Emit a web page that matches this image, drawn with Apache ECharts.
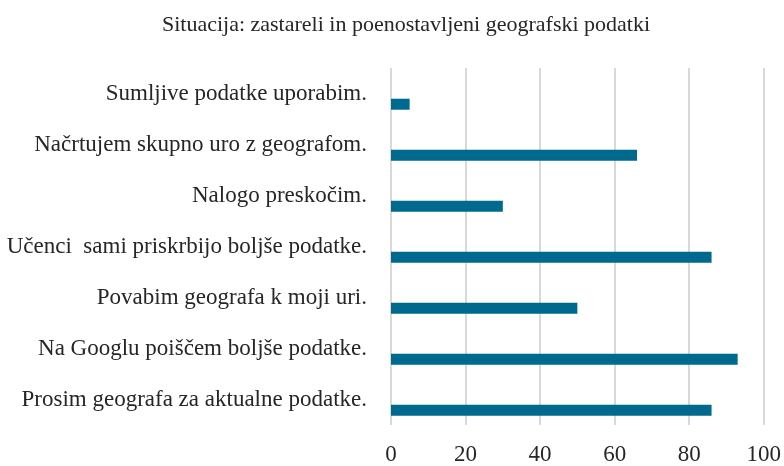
<!DOCTYPE html>
<html>
<head>
<meta charset="utf-8">
<script src="https://cdn.jsdelivr.net/npm/echarts@6/dist/echarts.min.js"></script>
<style>
  html, body { margin: 0; padding: 0; background: #fff; }
  #chart { width: 784px; height: 466px; }
</style>
</head>
<body>
<div id="chart"></div>
<script>
var chart = echarts.init(document.getElementById('chart'));

var titleText = 'Situacija: zastareli in poenostavljeni geografski podatki';

// od spodaj navzgor
var categories = [
  'Prosim geografa za aktualne podatke.',
  'Na Googlu poiščem boljše podatke.',
  'Povabim geografa k moji uri.',
  'Učenci  sami priskrbijo boljše podatke.',
  'Nalogo preskočim.',
  'Načrtujem skupno uro z geografom.',
  'Sumljive podatke uporabim.'
];
var values = [86, 93, 50, 86, 30, 66, 5];
var xTicks = [0, 20, 40, 60, 80, 100];

var font = '"Liberation Serif", "DejaVu Serif", serif';

var option = {
  backgroundColor: '#fff',
  title: {
    text: titleText,
    left: 401,
    textAlign: 'center',
    top: 9,
    textStyle: { fontFamily: font, fontSize: 22, fontWeight: 'normal', color: '#262626' }
  },
  grid: { left: 391, right: 19, top: 68, bottom: 36, containLabel: false },
  xAxis: {
    type: 'value',
    min: xTicks[0],
    max: xTicks[xTicks.length - 1],
    interval: 20,
    axisLine: { show: false },
    axisTick: { show: false },
    splitLine: { lineStyle: { color: '#d9d9d9', width: 2 } },
    axisLabel: { fontFamily: font, fontSize: 23, color: '#262626', margin: 18 }
  },
  yAxis: {
    type: 'category',
    data: categories,
    axisLine: { show: false },
    axisTick: { show: false },
    axisLabel: { fontFamily: font, fontSize: 23, color: '#262626', margin: 24 }
  },
  series: [
    {
      // prazna serija (kot v izvorni tabeli)
      type: 'bar',
      data: [],
      barWidth: 11,
      barGap: '95%'
    },
    {
      type: 'bar',
      data: values,
      barWidth: 11,
      barGap: '95%',
      itemStyle: { color: '#006a8e' }
    }
  ]
};

chart.setOption(option);
</script>
</body>
</html>
